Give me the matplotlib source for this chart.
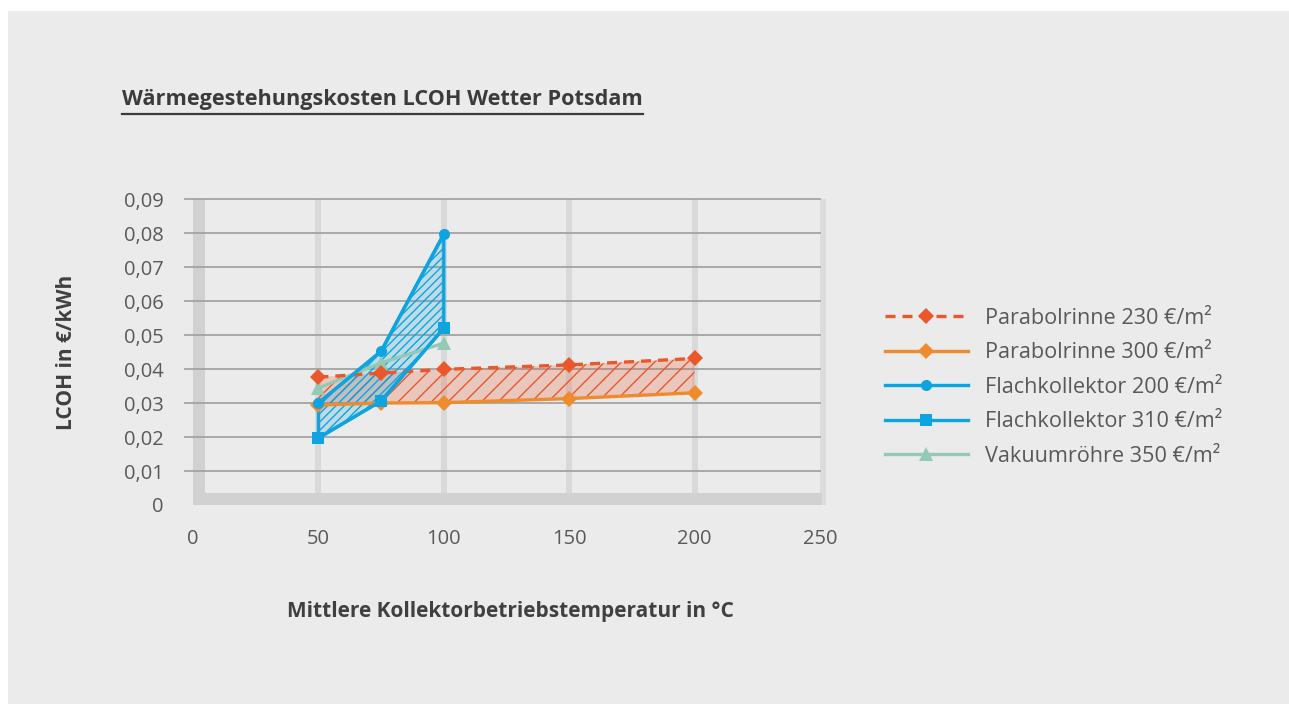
import numpy as np
import matplotlib.pyplot as plt
from matplotlib.patches import Rectangle
from matplotlib.lines import Line2D
from matplotlib.ticker import FuncFormatter

plt.rcParams['font.family'] = ['Open Sans', 'DejaVu Sans']
plt.rcParams['hatch.linewidth'] = 1.0

# Daten
temp_pr = [50, 75, 100, 150, 200]
pr_230 = [0.0376, 0.0388, 0.0399, 0.0412, 0.0431]
pr_300 = [0.0294, 0.0300, 0.0301, 0.0313, 0.0330]

temp_fk = [50, 75, 100]
fk_200 = [0.0300, 0.0452, 0.0797]
fk_310 = [0.0197, 0.0306, 0.0520]
vak_350 = [0.0344, 0.0418, 0.0476]

labels = ['Parabolrinne 230 €/m²', 'Parabolrinne 300 €/m²',
          'Flachkollektor 200 €/m²', 'Flachkollektor 310 €/m²',
          'Vakuumröhre 350 €/m²']
yticks = [0, 0.01, 0.02, 0.03, 0.04, 0.05, 0.06, 0.07, 0.08, 0.09]
xticks = [0, 50, 100, 150, 200, 250]

c_pr230 = '#e9572b'
c_pr300 = '#f08b2b'
c_fk = '#0ea4df'
c_vak = '#93cab6'
grau = '#ebebeb'

W, H = 1289, 704
fig = plt.figure(figsize=(W / 100, H / 100), dpi=100, facecolor='white')
fig.patches.append(Rectangle((8 / W, 0), 1, (H - 11) / H, transform=fig.transFigure,
                             facecolor=grau, edgecolor='none', zorder=-10))

# Achse so platzieren, dass 0 -> 193 px, 250 -> 820 px, 0 -> 505 px, 0.09 -> 199 px
sx = 627 / 250
sy = 3400
x0, x1 = -4, 253
y0, y1 = 0, 0.091
left = (193 + sx * x0) / W
width = sx * (x1 - x0) / W
bottom = (H - 505) / H
height = sy * (y1 - y0) / H
ax = fig.add_axes([left, bottom, width, height])
ax.set_facecolor('none')
ax.set_xlim(x0, x1)
ax.set_ylim(y0, y1)
for s in ax.spines.values():
    s.set_visible(False)

# Wand, Boden, Gitter
ax.add_patch(Rectangle((0, 0), 4.8, 0.09, facecolor='#d0d1d0', edgecolor='none', zorder=1))
ax.add_patch(Rectangle((249.9, 0), 2.4, 0.09, facecolor='#dcdcdc', edgecolor='none', zorder=1))
ax.add_patch(Rectangle((0, 0), 250.6, 0.0035, facecolor='#d0d1d0', edgecolor='none', zorder=1))
for xv in xticks[1:-1]:
    ax.plot([xv, xv], [0.0035, 0.09], color='#d9d9d9', lw=4.3, zorder=1, solid_capstyle='butt')
for yv in yticks[1:]:
    ax.plot([-3.2, 249.9], [yv, yv], color='#a3a3a3', lw=1.3, zorder=1.5)

# Flächen
x_pr = np.concatenate([temp_pr, temp_pr[::-1]])
y_pr = np.concatenate([pr_230, pr_300[::-1]])
ax.fill(x_pr, y_pr, facecolor=c_pr230, alpha=0.24, edgecolor='none', zorder=2)
ax.fill(x_pr, y_pr, facecolor='none', edgecolor=c_pr230, hatch='//', lw=0, zorder=2)

x_fk = np.concatenate([temp_fk, temp_fk[::-1]])
y_fk = np.concatenate([fk_200, fk_310[::-1]])
ax.fill(x_fk, y_fk, facecolor=c_fk, alpha=0.2, edgecolor='none', zorder=2.1)
ax.fill(x_fk, y_fk, facecolor='none', edgecolor=c_fk, hatch='////', lw=0, zorder=2.1)
ax.fill(x_fk, y_fk, facecolor='none', edgecolor=c_fk, lw=2.4, zorder=3)

# Linien
lw = 2.4
l1, = ax.plot(temp_pr, pr_230, color=c_pr230, lw=lw, dashes=(3.0, 2.1), marker='D', ms=8,
              mew=0, zorder=3.2, label=labels[0])
l2, = ax.plot(temp_pr, pr_300, color=c_pr300, lw=lw, marker='D', ms=8, mew=0, zorder=3.1,
              label=labels[1])
l5, = ax.plot(temp_fk, vak_350, color=c_vak, lw=lw, marker='^', ms=10, mew=0, zorder=3,
              label=labels[4])
l3, = ax.plot(temp_fk, fk_200, color=c_fk, lw=lw, marker='o', ms=8, mew=0, zorder=3.3,
              label=labels[2])
l4, = ax.plot(temp_fk, fk_310, color=c_fk, lw=lw, marker='s', ms=8, mew=0, zorder=3.3,
              label=labels[3])

ax.set_xticks(xticks)
ax.set_yticks(yticks)
ax.yaxis.set_major_formatter(FuncFormatter(lambda v, p: '0' if v == 0 else '{:.2f}'.format(v).replace('.', ',')))
ax.tick_params(axis='both', length=0, labelsize=14.5, labelcolor='#595959')
ax.tick_params(axis='x', pad=17)
ax.tick_params(axis='y', pad=14)

fig.text(67 / W, 1 - 352 / H, 'LCOH in €/kWh', rotation=90, ha='center', va='center',
         fontsize=15, fontweight='bold', color='#404040')
fig.text(510 / W, 1 - 611 / H, 'Mittlere Kollektorbetriebstemperatur in °C', ha='center',
         va='center', fontsize=15, fontweight='bold', color='#404040')

title = fig.text(122 / W, 1 - 100 / H, 'Wärmegestehungskosten LCOH Wetter Potsdam', ha='left',
                 va='center', fontsize=15.6, fontweight='bold', color='#3b3b3b')
fig.canvas.draw()
bb = title.get_window_extent()
fig.lines.append(Line2D([bb.x0 / W, bb.x1 / W], [1 - 114 / H, 1 - 114 / H], transform=fig.transFigure,
                        color='#3b3b3b', lw=1.6))

ax.legend(handles=[l1, l2, l3, l4, l5], loc='upper left', bbox_to_anchor=(885 / W, 1 - 308 / H),
          bbox_transform=fig.transFigure, frameon=False, fontsize=15.6, labelcolor='#595959',
          handlelength=3.83, handletextpad=0.77, labelspacing=0.62, borderpad=0, borderaxespad=0)

fig.savefig('out.png', dpi=100)
